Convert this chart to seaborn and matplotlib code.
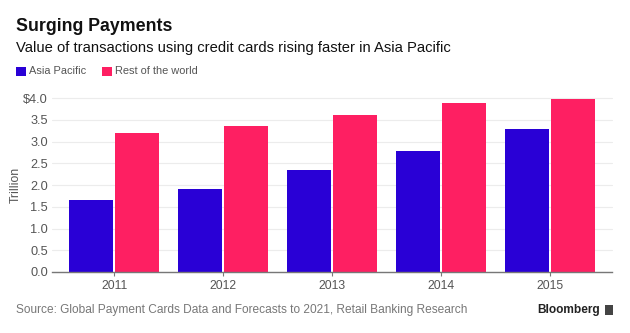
import matplotlib
matplotlib.use("Agg")
import matplotlib.pyplot as plt
import seaborn as sns
import pandas as pd
from matplotlib.patches import Rectangle

years = ["2011", "2012", "2013", "2014", "2015"]
asia_pacific = [1.65, 1.91, 2.34, 2.78, 3.29]
rest_of_world = [3.19, 3.36, 3.61, 3.89, 3.97]
series_names = ["Asia Pacific", "Rest of the world"]
y_ticks = [0.0, 0.5, 1.0, 1.5, 2.0, 2.5, 3.0, 3.5, 4.0]
y_tick_labels = ["0.0", "0.5", "1.0", "1.5", "2.0", "2.5", "3.0", "3.5", "$4.0"]

colors = {"Asia Pacific": "#2900d6", "Rest of the world": "#fe1f62"}

df = pd.DataFrame({
    "year": years * 2,
    "value": asia_pacific + rest_of_world,
    "series": [series_names[0]] * len(years) + [series_names[1]] * len(years),
})

sns.set_theme(style="white")
plt.rcParams["font.family"] = ["Liberation Sans", "DejaVu Sans"]

W, H = 630, 333
fig = plt.figure(figsize=(6.3, 3.33), dpi=100)
ax = fig.add_axes([52 / W, 1 - 272 / H, (612 - 52) / W, (272 - 98) / H])

sns.barplot(data=df, x="year", y="value", hue="series", palette=colors,
            saturation=1, width=0.84, gap=0.04, linewidth=0, ax=ax,
            legend=False, errorbar=None, zorder=3)

ax.set_xlim(-0.57, 4.57)
ax.set_ylim(0, 4.0)
ax.set_yticks(y_ticks)
ax.set_yticklabels(y_tick_labels)
ax.yaxis.grid(True, color="#ececec", linewidth=0.8, zorder=0)
for g in ax.get_ygridlines():
    g.set_clip_on(False)
ax.tick_params(axis="y", length=0, pad=3, labelsize=9.2, labelcolor="#555555")
ax.tick_params(axis="x", length=3, width=0.8, color="#777777", pad=3,
               labelsize=8.8, labelcolor="#555555", bottom=True)
for s in ["top", "right", "left"]:
    ax.spines[s].set_visible(False)
ax.spines["bottom"].set_color("#777777")
ax.spines["bottom"].set_linewidth(1.0)
ax.spines["bottom"].set_zorder(4)
ax.set_xlabel("")
ax.set_ylabel("Trillion", fontsize=8.8, color="#555555")
ax.yaxis.set_label_coords((22 - 52) / (612 - 52), 0.5)

fig.text(16 / W, 1 - 26.5 / H, "Surging Payments", fontsize=12.8,
         fontweight="bold", color="#111111", va="center", ha="left")
fig.text(16 / W, 1 - 48 / H,
         "Value of transactions using credit cards rising faster in Asia Pacific",
         fontsize=10.6, color="#111111", va="center", ha="left")

# legend
lx = [16, 102]
for i, name in enumerate(series_names):
    fig.patches.append(Rectangle((lx[i] / W, 1 - 76 / H), 10 / W, 9 / H,
                                 transform=fig.transFigure, facecolor=colors[name],
                                 edgecolor="none"))
    fig.text((lx[i] + 13) / W, 1 - 71.5 / H, name, fontsize=7.9, color="#555555",
             va="center", ha="left")

fig.text(16 / W, 1 - 310 / H,
         "Source: Global Payment Cards Data and Forecasts to 2021, Retail Banking Research",
         fontsize=8.6, color="#777777", va="center", ha="left")
fig.text(600 / W, 1 - 310 / H, "Bloomberg", fontsize=8.6, fontweight="bold",
         color="#222222", va="center", ha="right")
fig.patches.append(Rectangle((605 / W, 1 - 315 / H), 8 / W, 10 / H,
                             transform=fig.transFigure, facecolor="#444444",
                             edgecolor="none"))

fig.savefig("out.png", dpi=100)
